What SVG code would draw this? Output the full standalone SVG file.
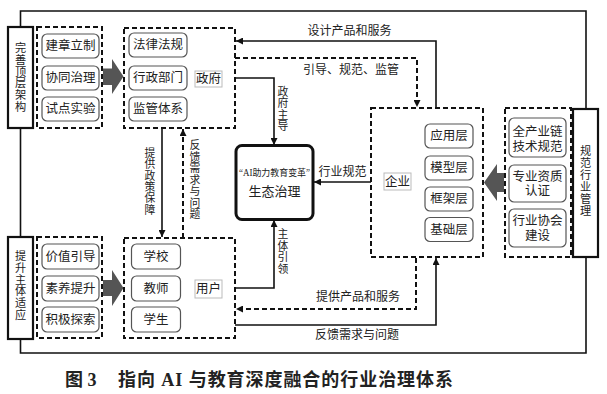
<svg xmlns="http://www.w3.org/2000/svg" width="607" height="394" viewBox="0 0 607 394">
<style>
text{font-family:"Liberation Serif","Noto Sans CJK SC",serif;fill:#222;}
.t{font-size:12.5px;text-anchor:middle;dominant-baseline:central;}
.s{font-size:12px;text-anchor:middle;dominant-baseline:central;}
.v{font-size:10.8px;text-anchor:middle;dominant-baseline:central;}
.vb{font-size:11.2px;text-anchor:middle;dominant-baseline:central;}
.thick{fill:#fff;stroke:#111;stroke-width:2.2;}
.grp{fill:none;stroke:#111;stroke-width:2;stroke-dasharray:5 3;}
.ib{fill:#fff;stroke:#555;stroke-width:1.2;}
.lb{fill:#fff;stroke:#bbb;stroke-width:1;}
.big{fill:#555;}
.ln{fill:none;stroke:#111;stroke-width:1.6;}
.dl{fill:none;stroke:#111;stroke-width:2;stroke-dasharray:5 3;}
</style>
<defs>
<marker id="ah" viewBox="0 0 10 10" refX="10" refY="5" markerWidth="7" markerHeight="7" markerUnits="userSpaceOnUse" orient="auto">
<path d="M0,0 L10,5 L0,10 z" fill="#111"/>
</marker>
</defs>
<rect width="607" height="394" fill="#fff"/>

<g id="frame">
<path class="ln" d="M20.5,27 V11 H586 V109 M586,257 V353 H20.5 V339 M20.5,128 V237" stroke-width="1.8"/>
</g>

<g id="connectors">
<path class="ln" d="M436,108 V41 H236" marker-end="url(#ah)"/>
<path class="dl" d="M235,58 H417 V107" marker-end="url(#ah)"/>
<path class="ln" d="M235,78 H274 V145" marker-end="url(#ah)"/>
<path class="ln" d="M371,182 H314" marker-end="url(#ah)"/>
<path class="ln" d="M235,288 H274 V220" marker-end="url(#ah)"/>
<path class="dl" d="M416,258 V309 H236" marker-end="url(#ah)"/>
<path class="ln" d="M235,325 H436 V258" marker-end="url(#ah)"/>
<path class="ln" d="M162,128 V237" marker-end="url(#ah)"/>
<path class="dl" d="M183,238 V129" marker-end="url(#ah)"/>
<text class="s" x="349.5" y="31">设计产品和服务</text>
<text class="s" x="351" y="70">引导、规范、监管</text>
<text class="s" x="342.5" y="172">行业规范</text>
<text class="s" x="358" y="297">提供产品和服务</text>
<text class="s" x="357" y="335">反馈需求与问题</text>
<text class="v" x="283"><tspan x="283" y="91.5">政</tspan><tspan x="283" y="103">府</tspan><tspan x="283" y="114.5">主</tspan><tspan x="283" y="126">导</tspan></text>
<text class="v" x="283"><tspan x="283" y="234">主</tspan><tspan x="283" y="245.5">体</tspan><tspan x="283" y="257">引</tspan><tspan x="283" y="268.5">领</tspan></text>
<text class="v" x="150"><tspan x="150" y="153">提</tspan><tspan x="150" y="164.3">供</tspan><tspan x="150" y="175.6">政</tspan><tspan x="150" y="186.9">策</tspan><tspan x="150" y="198.2">保</tspan><tspan x="150" y="209.5">障</tspan></text>
<text class="v" x="195"><tspan x="195" y="145">反</tspan><tspan x="195" y="156.5">馈</tspan><tspan x="195" y="168">需</tspan><tspan x="195" y="179.5">求</tspan><tspan x="195" y="191">与</tspan><tspan x="195" y="202.5">问</tspan><tspan x="195" y="214">题</tspan></text>
</g>

<g id="n-top-arch">
<rect class="thick" x="8" y="27" width="25" height="101"/>
<text class="vb"><tspan x="20.5" y="48">完</tspan><tspan x="20.5" y="59.8">善</tspan><tspan x="20.5" y="71.6">顶</tspan><tspan x="20.5" y="83.4">层</tspan><tspan x="20.5" y="95.2">架</tspan><tspan x="20.5" y="107">构</tspan></text>
</g>
<g id="n-subject">
<rect class="thick" x="8" y="237" width="25" height="102"/>
<text class="vb"><tspan x="20.5" y="256">提</tspan><tspan x="20.5" y="267.8">升</tspan><tspan x="20.5" y="279.6">主</tspan><tspan x="20.5" y="291.4">体</tspan><tspan x="20.5" y="303.2">适</tspan><tspan x="20.5" y="315">应</tspan></text>
</g>
<g id="n-industry">
<rect class="thick" x="573" y="109" width="25" height="148"/>
<text class="vb"><tspan x="585.5" y="151">规</tspan><tspan x="585.5" y="163">范</tspan><tspan x="585.5" y="175">行</tspan><tspan x="585.5" y="187">业</tspan><tspan x="585.5" y="199">管</tspan><tspan x="585.5" y="211">理</tspan></text>
</g>

<g id="g-arch">
<rect class="grp" x="37" y="27" width="65" height="101"/>
<rect class="ib" x="42" y="34" width="57" height="24" rx="5"/><text class="t" x="70.5" y="46">建章立制</text>
<rect class="ib" x="42" y="66" width="57" height="24" rx="5"/><text class="t" x="70.5" y="78">协同治理</text>
<rect class="ib" x="42" y="97" width="57" height="24" rx="5"/><text class="t" x="70.5" y="109">试点实验</text>
</g>
<g id="g-adapt">
<rect class="grp" x="37" y="237" width="65" height="101"/>
<rect class="ib" x="42" y="244" width="57" height="25" rx="5"/><text class="t" x="70.5" y="256.5">价值引导</text>
<rect class="ib" x="42" y="276" width="57" height="25" rx="5"/><text class="t" x="70.5" y="288.5">素养提升</text>
<rect class="ib" x="42" y="307" width="57" height="25" rx="5"/><text class="t" x="70.5" y="319.5">积极探索</text>
</g>

<g id="arrows-big">
<polygon class="big" points="103,68.5 112,68.5 112,59 123.5,76.5 112,94 112,85 103,85"/>
<polygon class="big" points="103,280 112,280 112,270 123.5,288 112,306 112,296 103,296"/>
<polygon class="big" points="484,182.5 497,164 497,173 504,173 504,192 497,192 497,201"/>
</g>

<g id="n-gov">
<rect class="grp" x="124" y="28" width="111" height="100"/>
<rect class="ib" x="129" y="33" width="58" height="24" rx="5"/><text class="t" x="158" y="45">法律法规</text>
<rect class="ib" x="129" y="66" width="58" height="24" rx="5"/><text class="t" x="158" y="78">行政部门</text>
<rect class="ib" x="129" y="97" width="58" height="24" rx="5"/><text class="t" x="158" y="109">监管体系</text>
<rect class="lb" x="195" y="71" width="27" height="16"/><text class="t" x="208.5" y="79">政府</text>
</g>

<g id="n-user">
<rect class="grp" x="124" y="238" width="111" height="100"/>
<rect class="ib" x="131.5" y="244" width="49" height="25" rx="5"/><text class="t" x="156" y="256.5">学校</text>
<rect class="ib" x="131.5" y="276" width="49" height="25" rx="5"/><text class="t" x="156" y="288.5">教师</text>
<rect class="ib" x="131.5" y="307" width="49" height="25" rx="5"/><text class="t" x="156" y="319.5">学生</text>
<rect class="lb" x="195" y="280" width="27" height="18"/><text class="t" x="208.5" y="289">用户</text>
</g>

<g id="n-center">
<rect x="236" y="145.5" width="77" height="74" rx="6" fill="#fff" stroke="#111" stroke-width="3"/>
<text x="274.5" y="173" font-size="9.5" text-anchor="middle" dominant-baseline="central" textLength="71" lengthAdjust="spacingAndGlyphs">“AI助力教育变革”</text>
<text x="274.5" y="191" font-size="13" text-anchor="middle" dominant-baseline="central">生态治理</text>
</g>

<g id="n-enterprise">
<rect class="grp" x="371" y="108" width="112" height="149"/>
<rect class="ib" x="425" y="124" width="48" height="24" rx="5"/><text class="t" x="449" y="136">应用层</text>
<rect class="ib" x="425" y="156" width="48" height="24" rx="5"/><text class="t" x="449" y="168">模型层</text>
<rect class="ib" x="425" y="187" width="48" height="24" rx="5"/><text class="t" x="449" y="199">框架层</text>
<rect class="ib" x="425" y="217.5" width="48" height="24" rx="5"/><text class="t" x="449" y="229.5">基础层</text>
<rect class="lb" x="384" y="173" width="27" height="17"/><text class="t" x="397.5" y="181.5">企业</text>
</g>

<g id="g-norms">
<rect class="grp" x="505" y="108" width="66" height="149"/>
<rect class="ib" x="509" y="118" width="57" height="39" rx="5"/><text class="t" x="537.5" y="131.5">全产业链</text><text class="t" x="537.5" y="146.5">技术规范</text>
<rect class="ib" x="509" y="165" width="57" height="37" rx="5"/><text class="t" x="537.5" y="176.5">专业资质</text><text class="t" x="537.5" y="191">认证</text>
<rect class="ib" x="509" y="209" width="57" height="38" rx="5"/><text class="t" x="537.5" y="220.5">行业协会</text><text class="t" x="537.5" y="235.5">建设</text>
</g>

<g id="caption">
<text x="65" y="380" font-size="18" font-weight="bold" dominant-baseline="central" font-family="Noto Sans CJK SC,sans-serif">图 3</text>
<text x="118" y="380" font-size="18" font-weight="bold" dominant-baseline="central" font-family="Noto Sans CJK SC,sans-serif" textLength="335">指向 AI 与教育深度融合的行业治理体系</text>
</g>
</svg>
